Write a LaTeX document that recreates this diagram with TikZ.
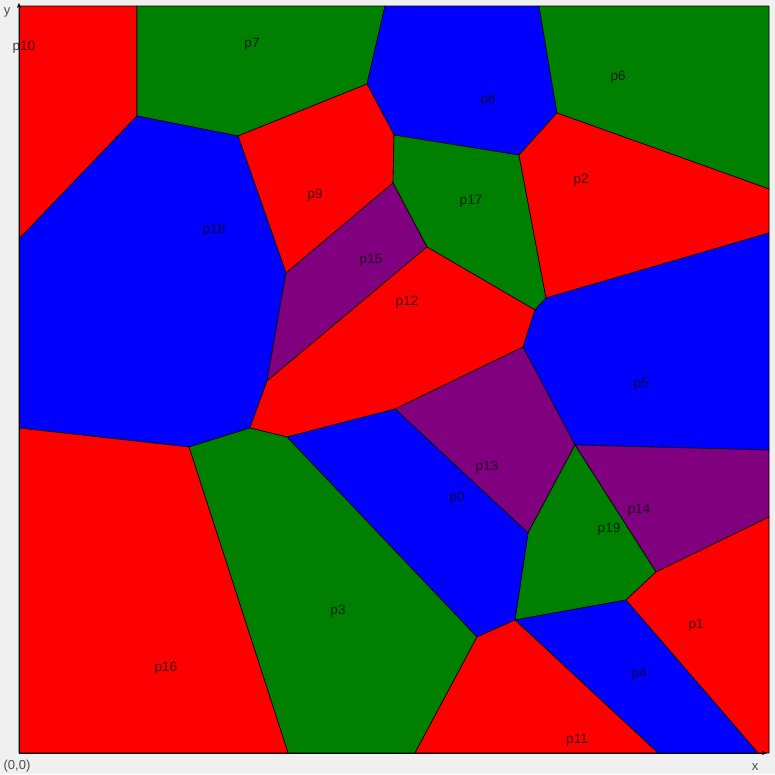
\documentclass[tikz,border=0pt]{standalone}
\usepackage{fontspec}
\setmainfont{Liberation Sans}
\usetikzlibrary{arrows.meta}
\definecolor{cred}{RGB}{255,0,0}
\definecolor{cgreen}{RGB}{0,128,0}
\definecolor{cblue}{RGB}{0,0,255}
\definecolor{cpurple}{RGB}{128,0,128}
\definecolor{bggray}{RGB}{240,240,240}
\tikzset{
  cell/.style={draw=black, line width=0.6pt, line join=round},
  redcell/.style={cell, fill=cred},
  greencell/.style={cell, fill=cgreen},
  bluecell/.style={cell, fill=cblue},
  purplecell/.style={cell, fill=cpurple},
  site/.style={font=\fontsize{13.5}{15}\selectfont, text=black, text opacity=0.75, inner sep=0pt},
  axislabel/.style={font=\fontsize{13}{15}\selectfont, text=black!70, inner sep=0pt}
}
\begin{document}
\begin{tikzpicture}[x=1pt, y=-1pt]
  \fill[bggray] (0,0) rectangle (775,774);
  \useasboundingbox (0,0) rectangle (775,774);

  % frame corners and border points
  \coordinate (tl) at (19,6);
  \coordinate (tr) at (769,6);
  \coordinate (bl) at (19,753);
  \coordinate (br) at (769,753);
  \coordinate (t1) at (137,6);
  \coordinate (t2) at (385,6);
  \coordinate (t3) at (539,6);
  \coordinate (l1) at (19,239);
  \coordinate (l2) at (19,428);
  \coordinate (r1) at (769,189);
  \coordinate (r2) at (769,233);
  \coordinate (r3) at (769,450);
  \coordinate (r4) at (769,517);
  \coordinate (b1) at (288,753);
  \coordinate (b2) at (415,753);
  \coordinate (b3) at (658,753);
  \coordinate (b4) at (758,753);

  % inner vertices
  \coordinate (va) at (137,116);
  \coordinate (vc) at (238,136);
  \coordinate (vd) at (367,84);
  \coordinate (ve) at (394,135);
  \coordinate (vf) at (519,155);
  \coordinate (vg) at (393,183);
  \coordinate (vh) at (427,247);
  \coordinate (vi) at (557,113);
  \coordinate (vl) at (546,298);
  \coordinate (vm) at (535,310);
  \coordinate (vn) at (523,347);
  \coordinate (vo) at (395,409);
  \coordinate (vp) at (287,437);
  \coordinate (vq) at (250,428);
  \coordinate (vr) at (267,381);
  \coordinate (vs) at (286,273);
  \coordinate (vt) at (575,445);
  \coordinate (vv) at (528,533);
  \coordinate (vw) at (515,620);
  \coordinate (vx) at (656,572);
  \coordinate (vz) at (626,600);
  \coordinate (vaa) at (477,637);
  \coordinate (vae) at (189,447);

  % cells
  \draw[redcell] (tl) -- (t1) -- (va) -- (l1) -- cycle;
  \draw[greencell] (t1) -- (t2) -- (vd) -- (vc) -- (va) -- cycle;
  \draw[bluecell] (t2) -- (t3) -- (vi) -- (vf) -- (ve) -- (vd) -- cycle;
  \draw[greencell] (t3) -- (tr) -- (r1) -- (vi) -- cycle;
  \draw[redcell] (vc) -- (vd) -- (ve) -- (vg) -- (vs) -- cycle;
  \draw[greencell] (ve) -- (vf) -- (vl) -- (vm) -- (vh) -- (vg) -- cycle;
  \draw[redcell] (vi) -- (r1) -- (r2) -- (vl) -- (vf) -- cycle;
  \draw[bluecell] (l1) -- (va) -- (vc) -- (vs) -- (vr) -- (vq) -- (vae) -- (l2) -- cycle;
  \draw[purplecell] (vs) -- (vg) -- (vh) -- (vr) -- cycle;
  \draw[redcell] (vr) -- (vh) -- (vm) -- (vn) -- (vo) -- (vp) -- (vq) -- cycle;
  \draw[bluecell] (vl) -- (r2) -- (r3) -- (vt) -- (vn) -- (vm) -- cycle;
  \draw[purplecell] (vn) -- (vt) -- (vv) -- (vo) -- cycle;
  \draw[purplecell] (vt) -- (r3) -- (r4) -- (vx) -- cycle;
  \draw[greencell] (vt) -- (vx) -- (vz) -- (vw) -- (vv) -- cycle;
  \draw[bluecell] (vo) -- (vv) -- (vw) -- (vaa) -- (vp) -- cycle;
  \draw[greencell] (vq) -- (vp) -- (vaa) -- (b2) -- (b1) -- (vae) -- cycle;
  \draw[redcell] (l2) -- (vae) -- (b1) -- (bl) -- cycle;
  \draw[redcell] (vx) -- (r4) -- (br) -- (b4) -- (vz) -- cycle;
  \draw[bluecell] (vz) -- (b4) -- (b3) -- (vw) -- cycle;
  \draw[redcell] (vw) -- (b3) -- (b2) -- (vaa) -- cycle;

  % axes
  \draw[line width=0.6pt, -{Stealth[length=5pt, width=4pt]}] (bl) -- (19,3);
  \draw[line width=0.6pt, -{Stealth[length=5pt, width=4pt]}] (bl) -- (767,753);
  \node[axislabel] (ylab) at (7,12) {y};
  \node[axislabel] (xlab) at (755,767) {x};
  \node[axislabel] (origin) at (17,766) {(0,0)};

  % site labels
  \node[site] (p0) at (457,498) {p0};
  \node[site] (p1) at (696,625) {p1};
  \node[site] (p2) at (581,180) {p2};
  \node[site] (p3) at (338,611) {p3};
  \node[site] (p4) at (639,674) {p4};
  \node[site] (p5) at (641,384) {p5};
  \node[site] (p6) at (618,77) {p6};
  \node[site] (p7) at (252,44) {p7};
  \node[site] (p8) at (488,100) {p8};
  \node[site] (p9) at (315,195) {p9};
  \node[site] (p10) at (24,47) {p10};
  \node[site] (p11) at (577,740) {p11};
  \node[site] (p12) at (407,302) {p12};
  \node[site] (p13) at (487,467) {p13};
  \node[site] (p14) at (639,510) {p14};
  \node[site] (p15) at (371,260) {p15};
  \node[site] (p16) at (166,668) {p16};
  \node[site] (p17) at (471,201) {p17};
  \node[site] (p18) at (214,230) {p18};
  \node[site] (p19) at (609,529) {p19};
\end{tikzpicture}
\end{document}
